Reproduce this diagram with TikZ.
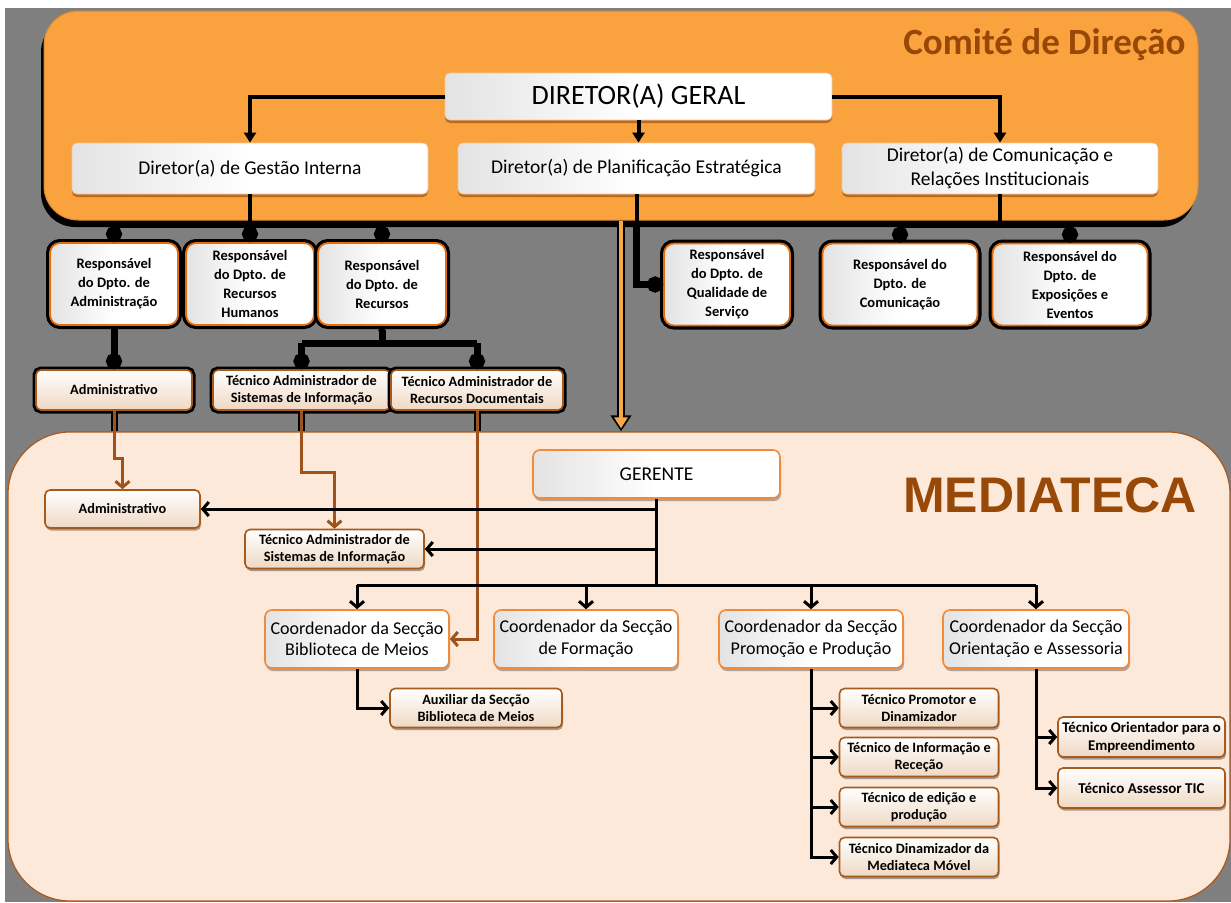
\documentclass[tikz,border=0pt]{standalone}
\usepackage{fontspec}
\setmainfont{Carlito}
\newfontfamily\arialfont{Liberation Sans}
\usetikzlibrary{arrows.meta,shadows,calc}

\definecolor{bggray}{HTML}{7F7F7F}
\definecolor{panelOrange}{HTML}{FAA23E}
\definecolor{panelEdge}{HTML}{D98A35}
\definecolor{comiteText}{HTML}{974706}
\definecolor{medFill}{HTML}{FDE9DA}
\definecolor{medEdge}{HTML}{A9581B}
\definecolor{medText}{HTML}{984807}
\definecolor{dirEdge}{HTML}{F0C8A0}
\definecolor{dirShadow}{HTML}{B86418}
\definecolor{respEdge}{HTML}{E46C0A}
\definecolor{tecFill}{HTML}{EFD8C3}
\definecolor{tecEdge}{HTML}{A65A1C}
\definecolor{coordEdge}{HTML}{F08B3C}
\definecolor{brownLine}{HTML}{A0521B}
\definecolor{arrowOrange}{HTML}{F9A848}

\begin{document}
\begin{tikzpicture}[x=1pt,y=-1pt,
  panelA/.style={draw=panelEdge, line width=1pt, fill=panelOrange, rounded corners=34pt, inner sep=0pt,
    drop shadow={shadow xshift=-3pt, shadow yshift=-7pt, opacity=1, fill=black}},
  panelB/.style={draw=medEdge, line width=1.2pt, fill=medFill, rounded corners=62pt, inner sep=0pt},
  whitebase/.style={align=center, inner sep=2pt, left color=black!11, right color=white, middle color=white},
  dirbox/.style={whitebase, rounded corners=5pt, draw=dirEdge, line width=0.8pt,
    drop shadow={shadow xshift=0pt, shadow yshift=-3pt, opacity=0.9, fill=dirShadow},
    font=\fontsize{19.5}{24}\selectfont},
  respbox/.style={whitebase, rounded corners=10pt, preaction={draw=black, line width=8pt},
    draw=respEdge, line width=1.8pt, font=\fontsize{14.5}{19}\selectfont\bfseries},
  tecbase/.style={align=center, inner sep=1pt, rounded corners=5pt, top color=white, bottom color=tecFill,
    draw=tecEdge, line width=1.6pt, font=\fontsize{14.3}{17}\selectfont\bfseries},
  tecgray/.style={tecbase, preaction={draw=black, line width=7pt}},
  tecbox/.style={tecbase, drop shadow={shadow xshift=1pt, shadow yshift=-2.5pt, opacity=.35, fill=black}},
  coordbox/.style={whitebase, rounded corners=7pt, draw=coordEdge, line width=1.6pt,
    drop shadow={shadow xshift=1pt, shadow yshift=-3pt, opacity=.3, fill=black},
    font=\fontsize{18}{21.5}\selectfont},
  topconn/.style={line width=4pt, black},
  tri/.style={-{Triangle[length=10pt,width=12pt]}},
  grayconn/.style={line width=7pt, black},
  dotend/.style={-{Circle[length=16pt]}},
  medconn/.style={line width=3pt, black},
  barb/.style={-{Straight Barb[length=6pt,width=14pt]}},
  brownconn/.style={line width=3pt, brownLine},
]
\useasboundingbox (0,0) rectangle (1231,902);
\fill[white] (0,0) rectangle (1231,902);
\fill[bggray] (5,8) rectangle (1231,902);

% panels
\node[panelA, minimum width=1154pt, minimum height=209pt] (comite) at (621,115.5) {};
\node[panelB, minimum width=1222pt, minimum height=469pt] (med) at (619,666.5) {};

\node[anchor=east, text=comiteText, font=\fontsize{37}{37}\selectfont\bfseries] (comiteTitle) at (1189,45) {Comité de Direção};
\node[text=medText, font=\arialfont\fontsize{50}{50}\selectfont\bfseries] (medTitle) at (1050,495) {MEDIATECA};

% direction committee
\node[dirbox, minimum width=387pt, minimum height=47pt, font=\fontsize{28}{30}\selectfont] (dg) at (638.5,96.5) {DIRETOR(A) GERAL};
\node[dirbox, minimum width=356pt, minimum height=51pt] (gi) at (250,168.5) {Diretor(a) de Gestão Interna};
\node[dirbox, minimum width=357pt, minimum height=51pt] (pe) at (636.5,168.5) {Diretor(a) de Planificação Estratégica};
\node[dirbox, minimum width=316pt, minimum height=51pt] (cr) at (1000,168.5) {Diretor(a) de Comunicação e\\Relações Institucionais};

% departments
\node[respbox, minimum width=128pt, minimum height=82pt] (ra) at (114,284) {Responsável\\do Dpto. de\\Administração};
\node[respbox, minimum width=128pt, minimum height=82pt] (rh) at (250,284) {Responsável\\do Dpto. de\\Recursos\\Humanos};
\node[respbox, minimum width=128pt, minimum height=82pt] (rr) at (382,284) {Responsável\\do Dpto. de\\Recursos};
\node[respbox, minimum width=126pt, minimum height=82pt] (rq) at (727,284.5) {Responsável\\do Dpto. de\\Qualidade de\\Serviço};
\node[respbox, minimum width=155pt, minimum height=82pt] (rc) at (900,284.5) {Responsável do\\Dpto. de\\Comunicação};
\node[respbox, minimum width=155pt, minimum height=82pt] (rx) at (1070,284.5) {Responsável do\\Dpto. de\\Exposições e\\Eventos};

\node[tecgray, minimum width=156pt, minimum height=40pt] (admU) at (114,390) {Administrativo};
\node[tecgray, minimum width=177pt, minimum height=40pt] (tsU) at (301.5,390) {Técnico Administrador de\\Sistemas de Informação};
\node[tecgray, minimum width=172pt, minimum height=40pt] (trU) at (477,390) {Técnico Administrador de\\Recursos Documentais};

% mediateca
\node[coordbox, minimum width=247pt, minimum height=48pt, font=\fontsize{19.5}{22}\selectfont] (ger) at (656.5,474) {GERENTE};
\node[tecbox, minimum width=155pt, minimum height=38pt] (admL) at (122.5,509) {Administrativo};
\node[tecbox, minimum width=179pt, minimum height=39pt] (tsL) at (334.5,549) {Técnico Administrador de\\Sistemas de Informação};

\node[coordbox, minimum width=184pt, minimum height=58pt] (bib) at (357,639) {Coordenador da Secção\\Biblioteca de Meios};
\node[coordbox, minimum width=184pt, minimum height=58pt] (for) at (586,639) {Coordenador da Secção\\de Formação};
\node[coordbox, minimum width=184pt, minimum height=58pt] (pro) at (811,639) {Coordenador da Secção\\Promoção e Produção};
\node[coordbox, minimum width=186pt, minimum height=58pt] (ori) at (1036,639) {Coordenador da Secção\\Orientação e Assessoria};

\node[tecbox, minimum width=172pt, minimum height=39pt] (aux) at (476,708) {Auxiliar da Secção\\Biblioteca de Meios};
\node[tecbox, minimum width=159pt, minimum height=39pt] (tp1) at (919,708) {Técnico Promotor e\\Dinamizador};
\node[tecbox, minimum width=159pt, minimum height=39pt] (tp2) at (919,757) {Técnico de Informação e\\Receção};
\node[tecbox, minimum width=159pt, minimum height=39pt] (tp3) at (919,807) {Técnico de edição e\\produção};
\node[tecbox, minimum width=159pt, minimum height=39pt] (tp4) at (919,857) {Técnico Dinamizador da\\Mediateca Móvel};
\node[tecbox, minimum width=167pt, minimum height=40pt, font=\fontsize{14.8}{18}\selectfont\bfseries] (to1) at (1141.5,737) {Técnico Orientador para o\\Empreendimento};
\node[tecbox, minimum width=167pt, minimum height=40pt, font=\fontsize{15}{18}\selectfont\bfseries] (to2) at (1141.5,788) {Técnico Assessor TIC};

% helper levels
\coordinate (busG) at (0,224);
\coordinate (busR) at (0,343);
\coordinate (busM) at (0,585);
\coordinate (jogA) at (0,458);
\coordinate (jogB) at (0,472);
\coordinate (oax) at (621,0);

% committee connectors
\draw[topconn, tri] (dg.west) -| (gi.north);
\draw[topconn, tri] (dg.south) -- (dg.south |- pe.north);
\draw[topconn, tri] (dg.east) -| (cr.north);

\draw[topconn] (gi.south) -- (gi.south |- busG);
\draw[grayconn] (ra.north |- busG) -- (rr.north |- busG);
\draw[grayconn, dotend] (ra.north |- busG) -- (ra.north);
\draw[grayconn, dotend] (rh.north |- busG) -- (rh.north);
\draw[grayconn, dotend] (rr.north |- busG) -- (rr.north);

\draw[topconn] (cr.south) -- (cr.south |- busG);
\draw[grayconn] (rc.north |- busG) -- (rx.north |- busG);
\draw[grayconn, dotend] (rc.north |- busG) -- (rc.north);
\draw[grayconn, dotend] (rx.north |- busG) -- (rx.north);

\draw[topconn] (pe.south) -- (pe.south |- busG);
\draw[grayconn, dotend] (pe.south |- busG) |- (rq.west);

% orange link between the two panels
\draw[line width=8pt, black, -{Triangle[length=16pt,width=20pt]}] (comite.south -| oax) -- (med.north -| oax);
\draw[line width=4pt, arrowOrange, -{Triangle[length=11pt,width=13pt]}, shorten >=3pt] (comite.south -| oax) -- (med.north -| oax);

% department connectors
\draw[grayconn, dotend] (ra.south) -- (admU.north);
\draw[grayconn, {Triangle[length=5pt,width=8pt]}-] (rr.south) -- (rr.south |- busR);
\draw[grayconn] (tsU.north |- busR) -- (trU.north |- busR);
\draw[grayconn, dotend] (tsU.north |- busR) -- (tsU.north);
\draw[grayconn, dotend] (trU.north |- busR) -- (trU.north);

% links from the departments into the mediateca
\draw[line width=7pt, black] (admU.south) -- (admU.south |- med.north);
\draw[line width=7pt, black] (tsU.south) -- (tsU.south |- med.north);
\draw[line width=7pt, black] (trU.south) -- (trU.south |- med.north);
\draw[brownconn, barb] (admU.south) -- (admU.south |- jogA) -| (admL.north);
\draw[brownconn, barb] (tsU.south) -- (tsU.south |- jogB) -| (tsL.north);
\draw[brownconn, barb] (trU.south) |- (bib.east);

% mediateca connectors
\draw[medconn] (ger.south) -- (ger.south |- busM);
\draw[medconn, barb] (ger.south |- admL.east) -- (admL.east);
\draw[medconn, barb] (ger.south |- tsL.east) -- (tsL.east);
\draw[medconn] (bib.north |- busM) -- (ori.north |- busM);
\draw[medconn, barb] (bib.north |- busM) -- (bib.north);
\draw[medconn, barb] (for.north |- busM) -- (for.north);
\draw[medconn, barb] (pro.north |- busM) -- (pro.north);
\draw[medconn, barb] (ori.north |- busM) -- (ori.north);

\draw[medconn, barb] (bib.south) |- (aux.west);
\draw[medconn, barb] (pro.south) |- (tp1.west);
\draw[medconn, barb] (pro.south) |- (tp2.west);
\draw[medconn, barb] (pro.south) |- (tp3.west);
\draw[medconn, barb] (pro.south) |- (tp4.west);
\draw[medconn, barb] (ori.south) |- (to1.west);
\draw[medconn, barb] (ori.south) |- (to2.west);
\end{tikzpicture}
\end{document}
